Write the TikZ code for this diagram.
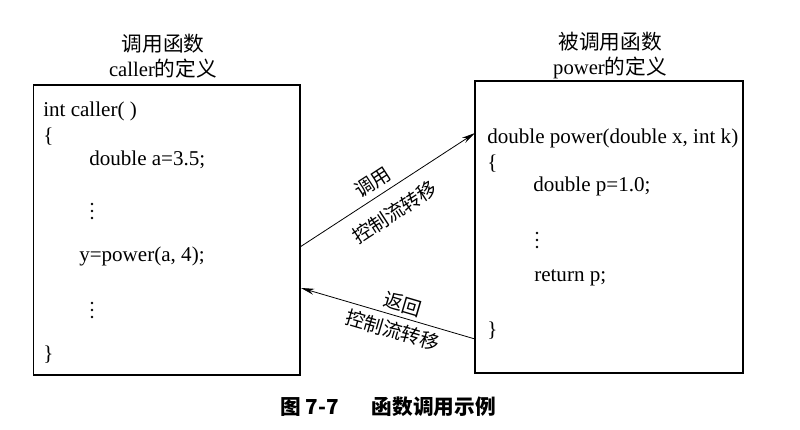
\documentclass[tikz,border=0pt]{standalone}
\usepackage{fontspec}
\setmainfont{Liberation Serif}
\newfontfamily\cjk{Noto Sans CJK SC}
\usetikzlibrary{arrows.meta}

\begin{document}
\begin{tikzpicture}[
        x=0.75pt, y=-0.75pt,
        codebox/.style={draw, line width=1pt, inner sep=0pt},
        codeline/.style={anchor=west, inner sep=0pt, font=\fontsize{15.8}{18}\selectfont},
        boxtitle/.style={align=center, inner sep=0pt, font=\fontsize{15.5}{18.75}\selectfont},
        flow/.style={-{Stealth[length=10pt, width=4.5pt]}, line width=0.6pt},
        flowlabel/.style={sloped, inner sep=1pt, font=\cjk\fontsize{14.5}{16}\selectfont}
    ]
    \useasboundingbox (0,0) rectangle (800,429);

    % the two function boxes
    \node[codebox, minimum width=200pt, minimum height=217.5pt] (caller) at (166.5,230) {};
    \node[codebox, minimum width=201pt, minimum height=219pt] (power) at (609,227) {};

    \node[boxtitle] (callertitle) at (163,56) {{\cjk 调用函数}\\caller{\cjk 的定义}};
    \node[boxtitle] (powertitle) at (610,56) {{\cjk 被调用函数}\\power{\cjk 的定义}};

    % caller body
    \node[codeline] (c1) at (43,111) {int caller( )};
    \node[codeline] (c2) at (43,137) {\{};
    \node[codeline] (c3) at (89,160) {double a=3.5;};
    \node[codeline] (c5) at (79,256) {y=power(a, 4);};
    \node[codeline] (c7) at (43,355) {\}};

    % power body
    \node[codeline] (p1) at (487,138) {double power(double x, int k)};
    \node[codeline] (p2) at (487,164) {\{};
    \node[codeline] (p3) at (533,186) {double p=1.0;};
    \node[codeline] (p5) at (534,278) {return p;};
    \node[codeline] (p6) at (487,331) {\}};

    % vertical dots
    \foreach \x/\y in {92/204, 92/303, 537/233}
        \foreach \d in {0,7,14}
            \fill (\x,\y+\d) circle (1.3);

    \coordinate (callout) at (300,247);
    \coordinate (callin) at (475,133);
    \coordinate (retout) at (475,339);
    \coordinate (retin) at (301,288);

    \draw[flow] (callout) -- node[flowlabel, pos=0.46, above=3pt] {调用}
        node[flowlabel, pos=0.47, below=9pt] {控制流转移} (callin);
    \draw[flow] (retout) -- node[flowlabel, pos=0.435, above=2pt] {返回}
        node[flowlabel, pos=0.45, below=3pt] {控制流转移} (retin);

    \node[font=\cjk\bfseries\fontsize{15.5}{17}\selectfont] (caption) at (388,407)
        {图 7-7\hspace{1.6em}函数调用示例};
\end{tikzpicture}
\end{document}
